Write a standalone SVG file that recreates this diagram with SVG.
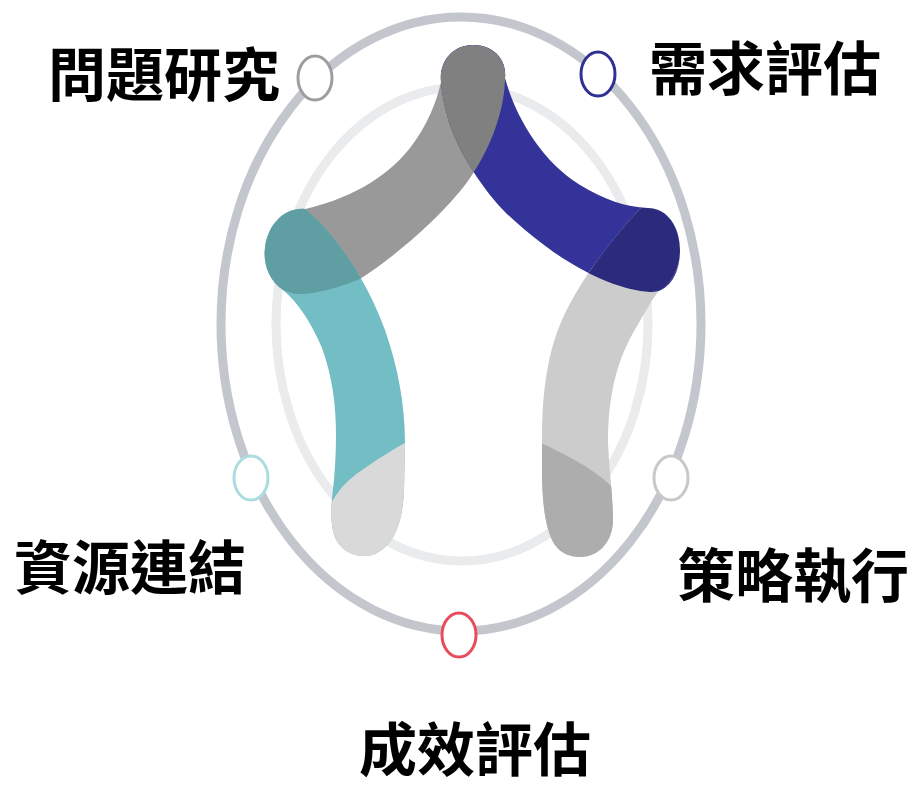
<svg xmlns="http://www.w3.org/2000/svg" xmlns:xlink="http://www.w3.org/1999/xlink" width="918" height="788" viewBox="0 0 918 788">
<style>
.lbl{font-family:"Noto Sans CJK TC","Noto Sans CJK SC",sans-serif;font-size:58px;font-weight:700;fill:#000;text-anchor:middle}
.dot{fill:#fff;stroke-width:3}
</style>
<defs>
<path id="pG" d="M305,209 C345,200 385,180 410,148 C428,125 437,100 441,82 C439,62 452,45 473,45 C494,45 507,60 505,78 C505,110 490,148 473.75,172.25 C455,203 405,250 360,279 C340,287 318,294 300,294 C293,294 288,292 283,290 C268,280 263,262 265,248 C267,228 282,207 305,209 Z"/>
<path id="pB" d="M441,82 C439,62 452,45 473,45 C494,45 507,60 505,78 C515,115 540,160 580,185 C605,200 625,207 648,208 C668,208 680,228 680,250 C680,275 668,293 650,292 C615,290 560,265 505,212 C495,202 483.75,187.75 473.75,172.25 C463.75,156.75 455,140 450,125 C445,110 442,95 441,82 Z"/>
<path id="pL" d="M641,208 C612,238 578,283 562,320 C548,352 542,390 542,440 L542,480 C543,505 545,525 552,540 C558,552 568,557 580,557 C600,557 613,540 613,520 C613,495 609,470 608,443 C608,400 615,365 633,333 C642,318 650,302 658,292 C670,285 680,270 680,250 C680,228 668,208 648,208 Z"/>
<path id="pT" d="M305,209 C330,228 365,275 385,330 C398,367 405,405 405,443 L404,490 C403,520 395,545 375,554 C360,560 340,553 334,535 C330,520 331,505 334,480 C338,430 337,390 322,348 C310,320 298,303 283,290 C268,280 263,262 265,248 C267,228 282,207 305,209 Z"/>
<clipPath id="cG"><use xlink:href="#pG"/></clipPath>
<clipPath id="cB"><use xlink:href="#pB"/></clipPath>
<clipPath id="cBL"><path d="M318,530 L333,500 C340,488 350,478 362,470 C378,459 392,450 410,440 L430,430 L430,600 L300,600 Z"/></clipPath>
<clipPath id="cBR"><path d="M528,436 L541,443 C560,452 590,466 610,485 L630,505 L630,600 L520,600 Z"/></clipPath>
</defs>

<g id="rings" fill="none">
<ellipse cx="461" cy="324" rx="240" ry="307" stroke="#c4c6cd" stroke-width="9"/>
<ellipse cx="462" cy="324" rx="186" ry="237" stroke="#eaebed" stroke-width="9"/>
</g>

<g id="connectors">
<use xlink:href="#pG" fill="#999999"/>
<use xlink:href="#pB" fill="#333399"/>
<use xlink:href="#pL" fill="#cccccc"/>
<use xlink:href="#pT" fill="#73bec4"/>
<use xlink:href="#pB" fill="#808080" clip-path="url(#cG)"/>
<use xlink:href="#pL" fill="#2c2a7d" clip-path="url(#cB)"/>
<use xlink:href="#pT" fill="#5f9fa3" clip-path="url(#cG)"/>
<use xlink:href="#pT" fill="#d9d9d9" clip-path="url(#cBL)"/>
<use xlink:href="#pL" fill="#adadad" clip-path="url(#cBR)"/>
</g>

<g id="node-wenti">
<ellipse class="dot" cx="315" cy="78" rx="17" ry="22" stroke="#9d9d9d"/>
<text class="lbl" x="164" y="96">問題研究</text>
</g>
<g id="node-xuqiu">
<ellipse class="dot" cx="598" cy="74" rx="17" ry="22" stroke="#2e3192"/>
<text class="lbl" x="765" y="90">需求評估</text>
</g>
<g id="node-ziyuan">
<ellipse class="dot" cx="251" cy="478" rx="17" ry="22" stroke="#abdcdf"/>
<text class="lbl" x="130" y="589">資源連結</text>
</g>
<g id="node-celue">
<ellipse class="dot" cx="671" cy="478" rx="17" ry="22" stroke="#c8c8c8"/>
<text class="lbl" x="793" y="597">策略執行</text>
</g>
<g id="node-chengxiao">
<ellipse class="dot" cx="459" cy="635" rx="17" ry="22" stroke="#e84c5a"/>
<text class="lbl" x="475" y="771" font-size="56">成效評估</text>
</g>
</svg>
